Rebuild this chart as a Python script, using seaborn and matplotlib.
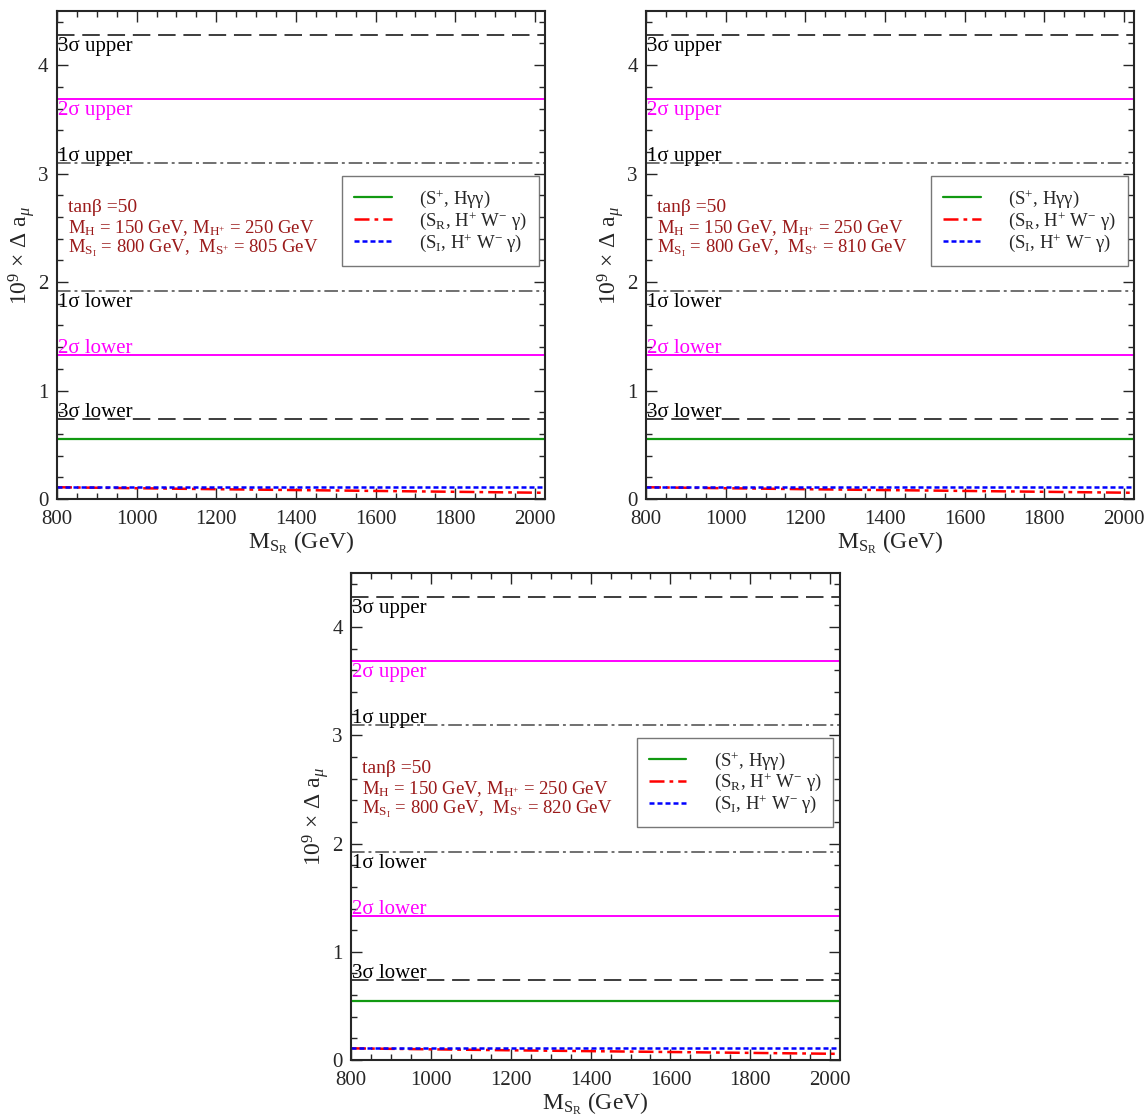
import matplotlib
matplotlib.use("Agg")
import matplotlib.pyplot as plt
import seaborn as sns
import pandas as pd
from matplotlib.ticker import MultipleLocator

# data
ms_r = [800, 1000, 1200, 1400, 1600, 1800, 2000, 2025]
splus_hgg = [0.55, 0.55, 0.55, 0.55, 0.55, 0.55, 0.55, 0.55]
sr_hwg = [0.108, 0.099, 0.090, 0.082, 0.074, 0.066, 0.058, 0.057]
si_hwg = [0.113, 0.113, 0.113, 0.113, 0.113, 0.113, 0.113, 0.113]
ms_plus = [805, 810, 820]

sigma_names = ["3σ upper", "2σ upper", "1σ upper", "1σ lower", "2σ lower", "3σ lower"]
sigma_values = [4.28, 3.69, 3.10, 1.92, 1.33, 0.74]

sns.set_theme(style="ticks")
plt.rcParams["font.family"] = ["Liberation Serif", "DejaVu Serif"]
plt.rcParams["mathtext.fontset"] = "custom"
plt.rcParams["mathtext.rm"] = "Liberation Serif"
plt.rcParams["mathtext.it"] = "Liberation Serif:italic"
plt.rcParams["mathtext.bf"] = "Liberation Serif:bold"

n = len(ms_r)
df = pd.DataFrame({"ms_r": ms_r * 3,
                   "da": splus_hgg + sr_hwg + si_hwg,
                   "series": ["hgg"] * n + ["sr"] * n + ["si"] * n})

sigma_style = {"3σ": ("#3c3c3c", (0, (9, 4))),
               "2σ": ("#ff00ff", "-"),
               "1σ": ("#707070", (0, (7, 2, 1.5, 2)))}
# which labels go under their line
below = {"3σ upper", "2σ upper", "1σ lower"}

fig = plt.figure(figsize=(11.46, 11.15), dpi=100)
positions = [[0.0497, 0.5525, 0.4258, 0.4377],
             [0.5637, 0.5525, 0.4258, 0.4377],
             [0.3063, 0.0493, 0.4268, 0.4368]]

dark_red = "#9b1a1a"

for pos, msp in zip(positions, ms_plus):
    ax = fig.add_axes(pos)
    for name, val in zip(sigma_names, sigma_values):
        col, ls = sigma_style[name[:2]]
        ax.axhline(val, color=col, ls=ls, lw=1.4)
        tcol = col if col == "#ff00ff" else "black"
        if name in below:
            ax.text(803, val - 0.02, name, color=tcol, fontsize=15, va="top", ha="left")
        else:
            ax.text(803, val - 0.03, name, color=tcol, fontsize=15, va="bottom", ha="left")

    sns.lineplot(data=df[df.series == "hgg"], x="ms_r", y="da", ax=ax,
                 color="#119911", lw=1.6, label="(S$^{+}$, Hγγ)")
    sns.lineplot(data=df[df.series == "sr"], x="ms_r", y="da", ax=ax,
                 color="#ff0000", lw=1.8, label="(S$_{\\mathregular{R}}$, H$^{+}$ W$^{-}$ γ)")
    sns.lineplot(data=df[df.series == "si"], x="ms_r", y="da", ax=ax,
                 color="#0000ff", lw=1.8, label="(S$_{\\mathregular{I}}$, H$^{+}$ W$^{-}$ γ)")
    lines = ax.get_lines()
    lines[-2].set_dashes((6, 2, 1.5, 2))
    lines[-1].set_dashes((2, 1.2))

    ax.set_xlim(800, 2025)
    ax.set_ylim(0, 4.5)
    ax.xaxis.set_major_locator(MultipleLocator(200))
    ax.xaxis.set_minor_locator(MultipleLocator(50))
    ax.yaxis.set_major_locator(MultipleLocator(1))
    ax.yaxis.set_minor_locator(MultipleLocator(0.2))
    ax.tick_params(which="both", direction="in", top=True, right=True,
                   labelsize=15, width=1)
    ax.tick_params(axis="x", pad=8)
    ax.tick_params(axis="y", pad=6)
    ax.tick_params(which="major", length=8)
    ax.tick_params(which="minor", length=4)
    for s in ax.spines.values():
        s.set_linewidth(1.5)
    ax.set_xlabel("$\\mathregular{M_{S_R}}$ (GeV)", fontsize=17, labelpad=0)
    ax.set_ylabel("$\\mathregular{10^{9}}$ × Δ a$_{\\mu}$", fontsize=17, labelpad=1)

    ax.text(0.023, 0.598, "tanβ =50", transform=ax.transAxes,
            color=dark_red, fontsize=14, va="center")
    ax.text(0.023, 0.556, "M$_{\\mathregular{H}}$ = 150 GeV, M$_{\\mathregular{H^{+}}}$ = 250 GeV",
            transform=ax.transAxes, color=dark_red, fontsize=13.5, va="center")
    ax.text(0.023, 0.514,
            "M$_{\\mathregular{S_{I}}}$ = 800 GeV,  M$_{\\mathregular{S^{+}}}$ = %d GeV" % msp,
            transform=ax.transAxes, color=dark_red, fontsize=13.5, va="center")

    leg = ax.legend(loc="upper left", bbox_to_anchor=(0.584, 0.662), fontsize=13.5,
                    frameon=True, fancybox=False, edgecolor="#555555",
                    handlelength=2.0, handletextpad=1.45, labelspacing=0.0,
                    borderpad=0.65, borderaxespad=0)
    leg.get_frame().set_linewidth(1.0)

fig.savefig("out.png", dpi=100)
